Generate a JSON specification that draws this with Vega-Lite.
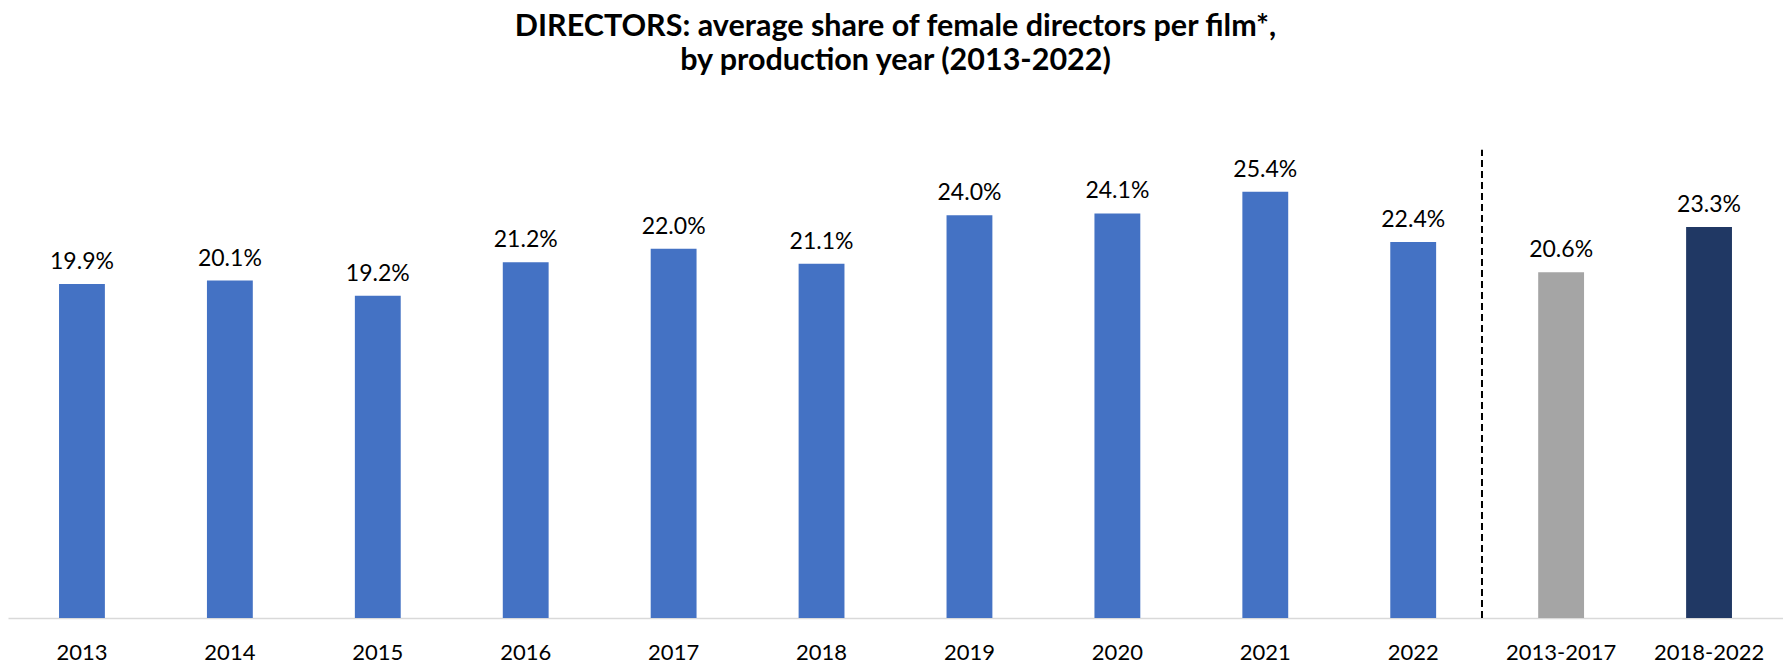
{
  "$schema": "https://vega.github.io/schema/vega-lite/v6.json",
  "autosize": "none",
  "width": 1775,
  "height": 470,
  "padding": {"left": 8, "top": 148, "right": 0, "bottom": 46},
  "background": "white",
  "title": {
    "text": ["DIRECTORS: average share of female directors per film*,", "by production year (2013-2022)"],
    "font": "Lato",
    "fontSize": 30.5,
    "fontWeight": "bold",
    "color": "#000000",
    "lineHeight": 34,
    "anchor": "middle",
    "offset": 72
  },
  "config": {
    "view": {"stroke": null},
    "font": "Lato"
  },
  "datasets": {
    "bars": [
      {"cat": "2013", "value": 0.199, "group": "year"},
      {"cat": "2014", "value": 0.201, "group": "year"},
      {"cat": "2015", "value": 0.192, "group": "year"},
      {"cat": "2016", "value": 0.212, "group": "year"},
      {"cat": "2017", "value": 0.220, "group": "year"},
      {"cat": "2018", "value": 0.211, "group": "year"},
      {"cat": "2019", "value": 0.240, "group": "year"},
      {"cat": "2020", "value": 0.241, "group": "year"},
      {"cat": "2021", "value": 0.254, "group": "year"},
      {"cat": "2022", "value": 0.224, "group": "year"},
      {"cat": "2013-2017", "value": 0.206, "group": "p1"},
      {"cat": "2018-2022", "value": 0.233, "group": "p2"}
    ],
    "divider": [
      {"after": "2022", "from": 0, "to": 0.279}
    ]
  },
  "layer": [
    {
      "data": {"name": "bars"},
      "mark": {"type": "bar"},
      "encoding": {
        "x": {
          "field": "cat",
          "type": "nominal",
          "sort": null,
          "scale": {
            "domain": ["2013", "2014", "2015", "2016", "2017", "2018", "2019", "2020", "2021", "2022", "2013-2017", "2018-2022"],
            "paddingInner": 0.69,
            "paddingOuter": 0.345
          },
          "axis": {
            "title": null,
            "labelAngle": 0,
            "labelFont": "Lato",
            "labelFontSize": 22,
            "labelColor": "#000000",
            "labelBaseline": "alphabetic",
            "labelPadding": 41,
            "ticks": false,
            "domainColor": "#D9D9D9",
            "domainWidth": 1.5,
            "grid": false
          }
        },
        "y": {
          "field": "value",
          "type": "quantitative",
          "scale": {"domain": [0, 0.28], "nice": false, "zero": true},
          "axis": null
        },
        "color": {
          "field": "group",
          "type": "nominal",
          "scale": {"domain": ["year", "p1", "p2"], "range": ["#4472C4", "#A5A5A5", "#203864"]},
          "legend": null
        }
      }
    },
    {
      "data": {"name": "bars"},
      "mark": {"type": "text", "baseline": "alphabetic", "dy": -15, "font": "Lato", "fontSize": 23, "color": "#000000"},
      "encoding": {
        "x": {"field": "cat", "type": "nominal", "sort": null},
        "y": {"field": "value", "type": "quantitative"},
        "text": {"field": "value", "type": "quantitative", "format": ".1%"}
      }
    },
    {
      "data": {"name": "divider"},
      "mark": {"type": "rule", "color": "#000000", "strokeWidth": 2, "strokeDash": [7, 4]},
      "encoding": {
        "x": {"field": "after", "type": "nominal", "bandPosition": 2},
        "y": {"field": "from", "type": "quantitative"},
        "y2": {"field": "to"}
      }
    }
  ]
}
